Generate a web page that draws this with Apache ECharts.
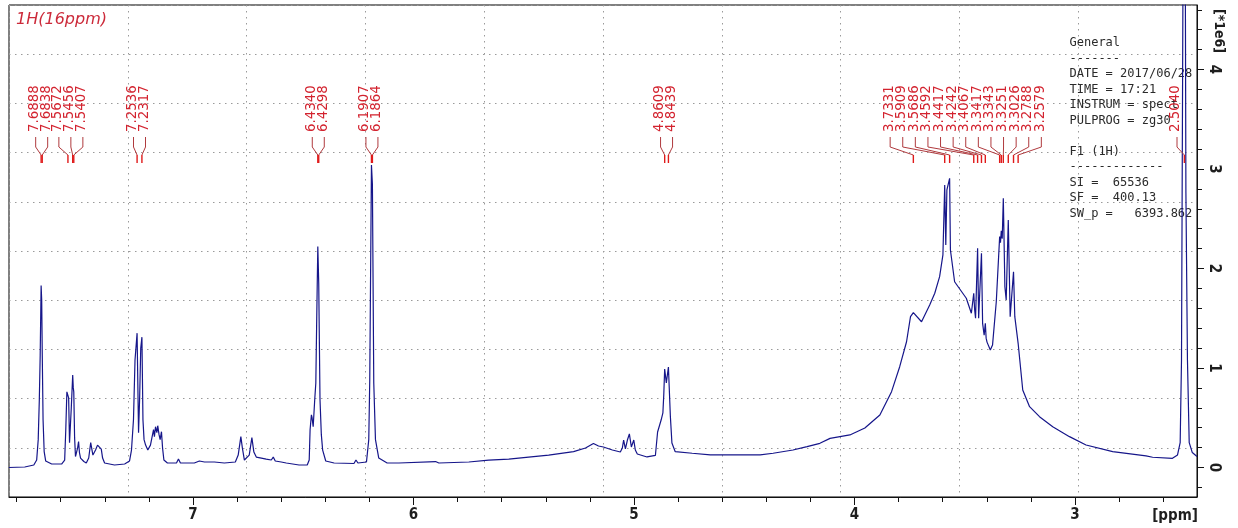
<!DOCTYPE html>
<html><head><meta charset="utf-8">
<script src="https://cdn.jsdelivr.net/npm/echarts@6/dist/echarts.min.js"></script>
<style>html,body{margin:0;padding:0;background:#fff;}#c{width:1238px;height:528px;}</style>
</head><body><div id="c"></div>
<script>
// ---- data (chemical shift in ppm, intensity in units of 1e6) ----
const ppm = [
7.835,7.763,7.722,7.709,7.702,7.697,7.693,7.6888,7.6862,7.6838,7.680,7.675,7.668,7.641,7.596,7.582,7.577,7.572,7.5672,7.564,
7.560,7.556,7.552,7.5456,7.543,7.5407,7.537,7.533,7.528,7.523,7.519,7.515,7.510,7.495,7.484,7.473,7.464,7.454,7.442,7.433,
7.424,7.416,7.410,7.401,7.356,7.310,7.288,7.279,7.270,7.263,7.2536,7.250,7.247,7.242,7.237,7.2317,7.227,7.222,7.215,7.205,
7.193,7.179,7.175,7.170,7.164,7.160,7.154,7.149,7.143,7.138,7.132,7.116,7.075,7.066,7.057,6.994,6.971,6.948,6.903,6.858,
6.808,6.795,6.783,6.776,6.767,6.758,6.745,6.733,6.724,6.713,6.690,6.668,6.645,6.636,6.627,6.600,6.591,6.577,6.519,6.482,
6.473,6.469,6.463,6.460,6.455,6.448,6.443,6.439,6.4340,6.4298,6.424,6.418,6.412,6.398,6.360,6.270,6.261,6.252,6.2133,6.2029,
6.1984,6.1907,6.1864,6.1802,6.1725,6.1576,6.1196,6.066,5.900,5.885,5.749,5.659,5.568,5.478,5.387,5.274,5.220,5.184,5.161,5.139,
5.098,5.062,5.053,5.047,5.039,5.030,5.021,5.012,5.001,4.994,4.985,4.941,4.903,4.893,4.877,4.869,4.865,4.8609,4.8534,4.8439,
4.835,4.828,4.813,4.736,4.654,4.564,4.428,4.369,4.279,4.215,4.157,4.111,4.021,3.953,3.885,3.832,3.795,3.764,3.746,3.7331,
3.696,3.659,3.636,3.614,3.599,3.5909,3.586,3.581,3.5686,3.565,3.546,3.493,3.470,3.4592,3.455,3.451,3.4417,3.437,3.4242,3.419,
3.412,3.4067,3.403,3.399,3.384,3.374,3.357,3.3417,3.338,3.3343,3.330,3.3251,3.318,3.312,3.3026,3.294,3.2788,3.273,3.2579,3.237,
3.206,3.161,3.101,3.025,2.950,2.829,2.678,2.671,2.648,2.558,2.535,2.523,2.517,2.5040,2.497,2.490,2.482,2.468,2.4467
];
const intensity = [
0.00,0.005,0.025,0.075,0.28,0.68,1.13,1.83,1.68,1.16,0.48,0.16,0.065,0.035,0.035,0.075,0.38,0.76,0.78,0.70,
0.25,0.26,0.60,0.93,0.80,0.76,0.30,0.11,0.10,0.20,0.26,0.15,0.095,0.06,0.045,0.095,0.25,0.125,0.175,0.225,
0.215,0.185,0.095,0.045,0.025,0.035,0.065,0.175,0.48,1.08,1.35,0.80,0.35,0.70,1.20,1.31,0.48,0.28,0.225,0.175,
0.225,0.38,0.31,0.41,0.35,0.42,0.33,0.28,0.36,0.195,0.075,0.045,0.045,0.085,0.045,0.045,0.065,0.055,0.055,0.045,
0.055,0.125,0.31,0.195,0.075,0.095,0.125,0.30,0.155,0.105,0.095,0.085,0.075,0.105,0.065,0.055,0.075,0.045,0.025,0.025,
0.075,0.38,0.53,0.50,0.41,0.68,0.85,1.48,2.22,1.85,0.68,0.33,0.175,0.065,0.045,0.04,0.075,0.045,0.055,0.28,
0.88,3.04,2.85,0.85,0.28,0.095,0.045,0.045,0.06,0.045,0.055,0.075,0.085,0.105,0.125,0.159,0.196,0.241,0.216,0.206,
0.176,0.156,0.196,0.276,0.186,0.276,0.337,0.206,0.276,0.176,0.136,0.106,0.121,0.357,0.477,0.548,0.73,0.99,0.85,1.01,
0.511,0.246,0.159,0.143,0.126,0.126,0.126,0.143,0.176,0.209,0.243,0.293,0.327,0.397,0.528,0.762,1.013,1.264,1.516,1.556,
1.465,1.633,1.751,1.918,2.136,2.839,2.236,2.789,2.906,2.186,1.867,1.701,1.550,1.751,1.583,1.50,2.203,1.499,2.153,1.449,
1.33,1.45,1.30,1.26,1.181,1.23,1.666,2.320,2.26,2.38,2.30,2.705,1.817,1.683,2.487,1.516,1.968,1.516,1.248,0.779,
0.611,0.511,0.410,0.310,0.226,0.159,0.116,0.136,0.103,0.092,0.126,0.25,1.08,8.5,2.76,1.08,0.25,0.15,0.11
];
// peak-pick groups (multiplets) as labelled on the spectrum
const peakGroups = [
  [7.6888, 7.6838],
  [7.5672, 7.5456, 7.5407],
  [7.2536, 7.2317],
  [6.4340, 6.4298],
  [6.1907, 6.1864],
  [4.8609, 4.8439],
  [3.7331, 3.5909, 3.5686, 3.4592, 3.4417, 3.4242, 3.4067, 3.3417, 3.3343, 3.3251, 3.3026, 3.2788, 3.2579],
  [2.5040]
];
const xTickLabels = [3, 4, 5, 6, 7];
const yTickLabels = [0, 1, 2, 3, 4];
const titleText = '1H(16ppm)';
const xAxisName = '[ppm]';
const yAxisName = '[*1e6]';
const paramLines = ['General', '-------', 'DATE = 2017/06/28', 'TIME = 17:21', 'INSTRUM = spect', 'PULPROG = zg30', '',
  'F1 (1H)', '-------------', 'SI =  65536', 'SF =  400.13', 'SW_p =   6393.862'];

// ---- axis ranges ----
const X_MIN = 2.4467, X_MAX = 7.8345, Y_MIN = -0.2965, Y_MAX = 4.648;

const xMinor = [], yMinor = [];
for (let k = Math.ceil(X_MIN * 5); k <= Math.floor(X_MAX * 5); k++) xMinor.push(+(k / 5).toFixed(1));
for (let k = Math.ceil(Y_MIN * 5); k <= Math.floor(Y_MAX * 5); k++) yMinor.push(+(k / 5).toFixed(1));

const spectrum = ppm.map((p, i) => [p, intensity[i]]);
const labelData = [];
peakGroups.forEach(g => g.forEach((p, i) => labelData.push([p, g[0], g[g.length - 1], i, g.length])));

const AX = '#111';
const axisFont = { fontFamily: "'DejaVu Sans Condensed', 'DejaVu Sans', sans-serif", fontSize: 15, fontWeight: 'bold', color: '#1e1e1e' };
const dotted = { color: '#9a9a9a', width: 1, type: [1.5, 4.5] };

const chart = echarts.init(document.getElementById('c'), null, { renderer: 'canvas' });
chart.setOption({
  animation: false,
  backgroundColor: '#fff',
  grid: { left: 9, right: 41, top: 5, bottom: 31, show: true, borderColor: '#000', borderWidth: 1, containLabel: false, outerBoundsMode: 'none' },
  xAxis: [
    { type: 'value', min: X_MIN, max: X_MAX, inverse: true, position: 'bottom',
      axisLine: { show: true, onZero: false, lineStyle: { color: AX, width: 1 } },
      axisTick: { show: true, inside: false, length: 8, customValues: xTickLabels, lineStyle: { color: AX } },
      axisLabel: Object.assign({ customValues: xTickLabels, margin: 11 }, axisFont),
      splitLine: { show: false } },
    { type: 'value', min: X_MIN, max: X_MAX, inverse: true, position: 'bottom',
      axisLine: { show: false, onZero: false },
      axisTick: { show: true, inside: false, length: 5, customValues: xMinor, lineStyle: { color: AX } },
      axisLabel: { show: false }, splitLine: { show: false } },
    { type: 'value', min: 0, max: 10, interval: 1, position: 'top',
      axisLine: { show: false }, axisTick: { show: false }, axisLabel: { show: false },
      splitLine: { show: true, lineStyle: dotted } }
  ],
  yAxis: [
    { type: 'value', min: Y_MIN, max: Y_MAX, position: 'right',
      axisLine: { show: true, onZero: false, lineStyle: { color: AX, width: 1 } },
      axisTick: { show: true, inside: false, length: 7, customValues: yTickLabels, lineStyle: { color: AX } },
      axisLabel: Object.assign({ customValues: yTickLabels, rotate: -90, margin: 9 }, axisFont),
      splitLine: { show: false } },
    { type: 'value', min: Y_MIN, max: Y_MAX, position: 'right',
      axisLine: { show: false, onZero: false },
      axisTick: { show: true, inside: false, length: 5, customValues: yMinor, lineStyle: { color: AX } },
      axisLabel: { show: false }, splitLine: { show: false } },
    { type: 'value', min: 0, max: 10, interval: 1, position: 'left',
      axisLine: { show: false }, axisTick: { show: false }, axisLabel: { show: false },
      splitLine: { show: true, lineStyle: dotted } }
  ],
  graphic: [
    { type: 'text', x: 16, y: 19.5, z: 1, style: { text: titleText, font: "italic 16px 'DejaVu Sans', sans-serif", fill: '#cc2a3a', align: 'left', verticalAlign: 'middle' } },
    { type: 'text', x: 1175, y: 516, z: 1, style: { text: xAxisName, font: "bold 15px 'DejaVu Sans Condensed', 'DejaVu Sans', sans-serif", fill: '#1e1e1e', align: 'center', verticalAlign: 'middle' } },
    { type: 'text', x: 1219, y: 31, rotation: -Math.PI / 2, z: 1, style: { text: yAxisName, font: "bold 14px 'DejaVu Sans Condensed', 'DejaVu Sans', sans-serif", fill: '#1e1e1e', align: 'center', verticalAlign: 'middle' } },
    { type: 'text', x: 1069.5, y: 35.5, z: 1, style: { text: paramLines.join('\n'), font: "12px 'DejaVu Sans Mono', monospace", lineHeight: 15.5, fill: '#2a2a2a', align: 'left', verticalAlign: 'top' } }
  ],
  series: [
    { type: 'line', xAxisIndex: 0, yAxisIndex: 0, data: spectrum, showSymbol: false, symbol: 'none',
      clip: true, z: 3, lineStyle: { color: '#16168a', width: 1.2 }, silent: true },
    { type: 'custom', xAxisIndex: 0, yAxisIndex: 0, data: labelData, clip: false, silent: true, z: 4,
      encode: { x: 0, y: 3 },
      renderItem: function (params, api) {
        const cs = params.coordSys;
        const px = api.coord([api.value(0), 0])[0];
        const a = api.coord([api.value(1), 0])[0];
        const b = api.coord([api.value(2), 0])[0];
        const i = api.value(3), n = api.value(4);
        const pitch = n > 3 ? 12.6 : 12;
        const half = (n - 1) / 2 * pitch;
        let c = (a + b) / 2;
        const limit = cs.x + cs.width - 20;
        if (c + half > limit) c = limit - half;
        const lx = c + (i - (n - 1) / 2) * pitch;
        const t = cs.y;
        return { type: 'group', children: [
          { type: 'text', x: lx - 1, y: t + 127, rotation: Math.PI / 2,
            style: { text: api.value(0).toFixed(4), font: "13.4px 'DejaVu Sans', sans-serif", fill: '#d3232f', align: 'left', verticalAlign: 'middle' } },
          { type: 'polyline', shape: { points: [[lx, t + 132], [lx, t + 142], [px, t + 150]] },
            style: { stroke: '#b03a3e', fill: null, lineWidth: 1 } },
          { type: 'line', shape: { x1: px, y1: t + 150, x2: px, y2: t + 158 },
            style: { stroke: '#e01a1a', lineWidth: 1.4 } }
        ] };
      } }
  ]
});
</script></body></html>
